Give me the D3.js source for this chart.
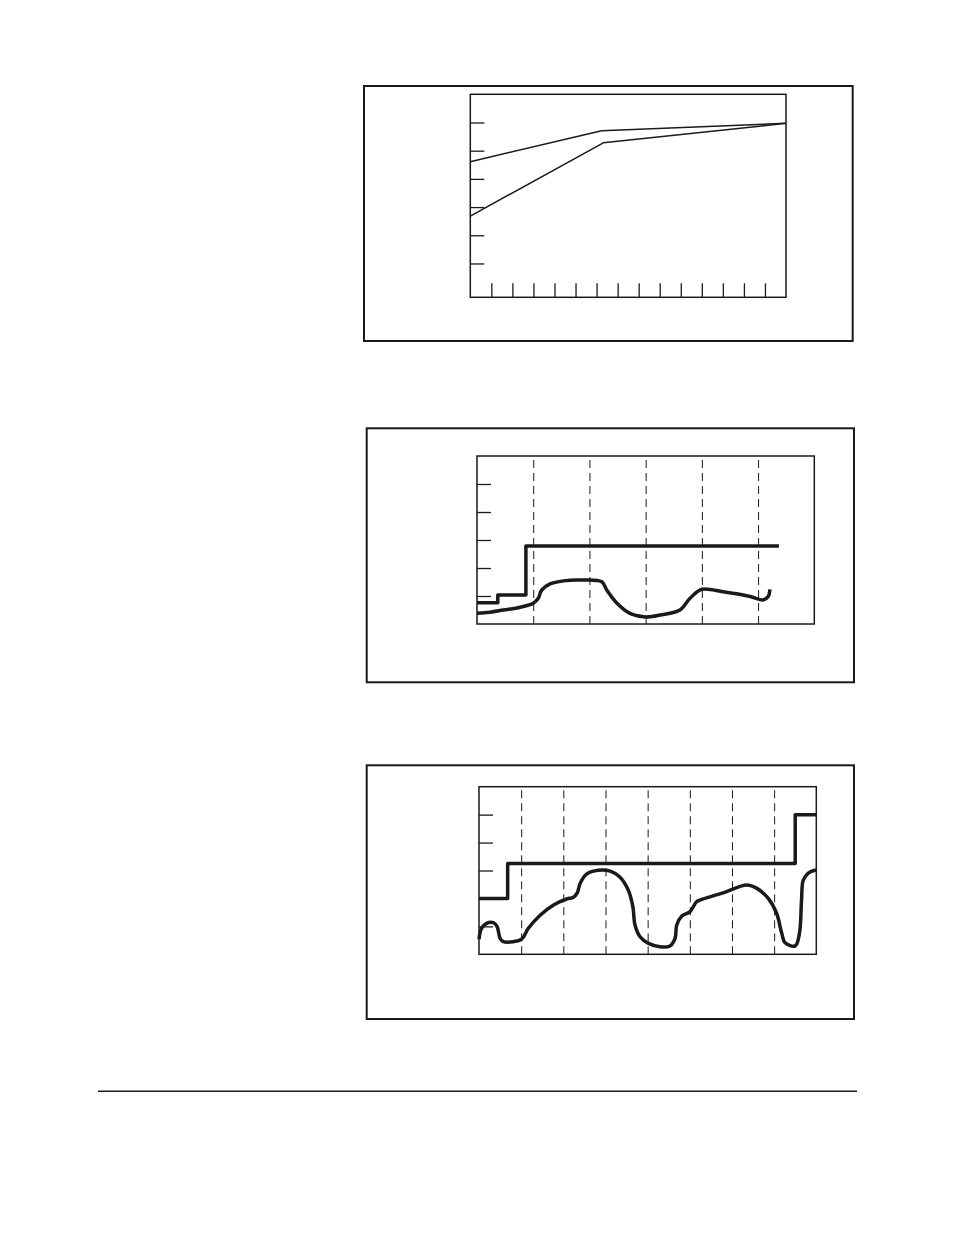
<!DOCTYPE html>
<meta charset="utf-8">
<html>

<head>
    <!-- Load d3.js -->
    <script src="https://d3js.org/d3.v7.min.js"></script>

    <style>
        body {
            background-color: #ffffff;
            margin: 0;
        }

        svg {
            display: block;
        }
    </style>
</head>

<body>
    <div id="page"></div>

    <script>
        // ---- data ----

        // top chart: two thin lines, x from 0 to 15
        var topX = [0, 15];
        var topTicksX = [1, 2, 3, 4, 5, 6, 7, 8, 9, 10, 11, 12, 13, 14];
        var topTicksY = [1, 2, 3, 4, 5, 6];
        var upperLine = [[0, 4.61], [6.24, 5.71], [15, 5.97]];
        var lowerLine = [[0, 2.68], [6.32, 5.28], [15, 5.97]];

        // middle chart: step line and a curve, x from 0 to 6
        var midGridX = [1, 2, 3, 4, 5];
        var midTicksY = [1, 2, 3, 4, 5];
        var midStepX = [0, 0.37, 0.87, 5.37];
        var midStepY = [0.76, 1.04, 2.79, 2.79];
        var midCurveX = [0, 0.23, 0.47, 0.77, 1.0, 1.09, 1.15, 1.3, 1.54, 1.83, 2.22, 2.31, 2.49, 2.72,
            2.96, 3.08, 3.26, 3.61, 3.79, 4.0, 4.38, 4.86, 5.09, 5.18, 5.21];
        var midCurveY = [0.38, 0.42, 0.5, 0.6, 0.74, 0.92, 1.21, 1.43, 1.54, 1.57, 1.51, 1.21, 0.74, 0.38,
            0.26, 0.26, 0.32, 0.5, 0.92, 1.24, 1.15, 0.98, 0.86, 0.98, 1.24];

        // bottom chart: step line and a curve, x from 0 to 8
        var lowGridX = [1, 2, 3, 4, 5, 6, 7];
        var lowTicksY = [1, 2, 3, 4, 5];
        var lowStepX = [0, 0.68, 7.5, 8];
        var lowStepY = [2.0, 3.25, 5.0, 5.0];
        var lowCurveX = [0, 0.06, 0.18, 0.34, 0.43, 0.5, 0.58, 0.81, 1.01, 1.17, 1.45, 1.76, 2.08, 2.24,
            2.33, 2.4, 2.55, 2.83, 3.11, 3.34, 3.54, 3.65, 3.7, 3.82, 4.02, 4.29, 4.53, 4.65, 4.69, 4.81,
            5.0, 5.16, 5.24, 5.79, 6.35, 6.59, 6.86, 7.06, 7.18, 7.26, 7.5, 7.6, 7.65, 7.69, 7.81, 7.97, 8.0];
        var lowCurveY = [0.54, 0.93, 1.11, 1.13, 0.99, 0.57, 0.45, 0.45, 0.54, 0.93, 1.40, 1.76, 1.98, 2.04,
            2.2, 2.54, 2.87, 3.01, 2.98, 2.77, 2.30, 1.7, 1.05, 0.63, 0.39, 0.27, 0.3, 0.57, 1.05, 1.37,
            1.52, 1.88, 1.94, 2.2, 2.48, 2.36, 2.0, 1.46, 0.75, 0.41, 0.3, 0.75, 1.94, 2.65, 2.91, 3.01, 3.01];

        // ---- drawing ----
        var svg = d3.select("#page")
            .append("svg")
            .attr("width", 954)
            .attr("height", 1235);

        var ink = "#1a1a1a";

        function zip(xs, ys) {
            return xs.map(function (v, i) { return [v, ys[i]]; });
        }

        // one framed panel with an inner plot box
        function panel(frame, plot, xDomain, yDomain) {
            svg.append("rect")
                .attr("x", frame.x0).attr("y", frame.y0)
                .attr("width", frame.x1 - frame.x0)
                .attr("height", frame.y1 - frame.y0)
                .style("fill", "none")
                .style("stroke", ink)
                .style("stroke-width", 2);

            var g = svg.append("g")
                .attr("transform", "translate(" + plot.x0 + "," + plot.y0 + ")");

            var w = plot.x1 - plot.x0,
                h = plot.y1 - plot.y0;

            var x = d3.scaleLinear().domain(xDomain).range([0, w]);
            var y = d3.scaleLinear().domain(yDomain).range([h, 0]);

            return { g: g, x: x, y: y, w: w, h: h };
        }

        function plotBox(p) {
            p.g.append("rect")
                .attr("width", p.w)
                .attr("height", p.h)
                .style("fill", "none")
                .style("stroke", ink)
                .style("stroke-width", 1.5);
        }

        function leftTicks(p, ticks) {
            var ax = p.g.append("g")
                .call(d3.axisLeft(p.y).tickValues(ticks).tickSizeInner(-14).tickSizeOuter(0).tickFormat(""));
            ax.select(".domain").remove();
            ax.selectAll("line").style("stroke", ink).style("stroke-width", 1.3);
        }

        function bottomTicks(p, ticks) {
            var ax = p.g.append("g")
                .attr("transform", "translate(0," + p.h + ")")
                .call(d3.axisBottom(p.x).tickValues(ticks).tickSizeInner(-14).tickSizeOuter(0).tickFormat(""));
            ax.select(".domain").remove();
            ax.selectAll("line").style("stroke", ink).style("stroke-width", 1.3);
        }

        function dashedGrid(p, ticks) {
            var ax = p.g.append("g")
                .attr("transform", "translate(0," + p.h + ")")
                .call(d3.axisBottom(p.x).tickValues(ticks).tickSizeInner(-p.h).tickSizeOuter(0).tickFormat(""));
            ax.select(".domain").remove();
            ax.selectAll("line")
                .style("stroke", ink)
                .style("stroke-width", 1)
                .style("stroke-dasharray", "8,5");
        }

        function drawLine(p, pts, width, curve) {
            var line = d3.line()
                .x(function (d) { return p.x(d[0]); })
                .y(function (d) { return p.y(d[1]); })
                .curve(curve);
            p.g.append("path")
                .datum(pts)
                .attr("d", line)
                .style("fill", "none")
                .style("stroke", ink)
                .style("stroke-width", width)
                .style("stroke-linejoin", "round");
        }

        // top chart
        var p1 = panel({ x0: 364, y0: 86, x1: 852.7, y1: 341 },
            { x0: 470.3, y0: 94.3, x1: 786, y1: 297.3 }, topX, [-0.2, 7]);
        leftTicks(p1, topTicksY);
        bottomTicks(p1, topTicksX);
        drawLine(p1, upperLine, 1.5, d3.curveLinear);
        drawLine(p1, lowerLine, 1.5, d3.curveLinear);
        plotBox(p1);

        // middle chart
        var p2 = panel({ x0: 366.7, y0: 428.3, x1: 854, y1: 682.3 },
            { x0: 477, y0: 456, x1: 814.3, y1: 624 }, [0, 6], [0, 6]);
        dashedGrid(p2, midGridX);
        leftTicks(p2, midTicksY);
        drawLine(p2, zip(midStepX, midStepY), 3.5, d3.curveStepAfter);
        drawLine(p2, zip(midCurveX, midCurveY), 3.5, d3.curveCatmullRom.alpha(0.5));
        plotBox(p2);

        // bottom chart
        var p3 = panel({ x0: 366.7, y0: 765.3, x1: 854, y1: 1019 },
            { x0: 479, y0: 786.7, x1: 816.3, y1: 954.3 }, [0, 8], [0, 6]);
        dashedGrid(p3, lowGridX);
        leftTicks(p3, lowTicksY);
        drawLine(p3, zip(lowStepX, lowStepY), 3.5, d3.curveStepAfter);
        drawLine(p3, zip(lowCurveX, lowCurveY), 3.5, d3.curveCatmullRom.alpha(0.5));
        plotBox(p3);

        // rule at the foot of the page
        svg.append("line")
            .attr("x1", 98).attr("x2", 857)
            .attr("y1", 1091.3).attr("y2", 1091.3)
            .style("stroke", ink)
            .style("stroke-width", 1.5);
    </script>
</body>

</html>
